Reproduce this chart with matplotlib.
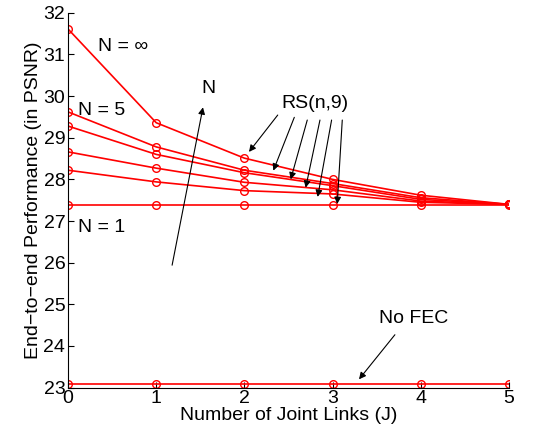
import numpy as np
import matplotlib
matplotlib.use('Agg')
import matplotlib.pyplot as plt

plt.rcParams['font.family'] = ['Liberation Sans', 'DejaVu Sans']

# Data
J = [0, 1, 2, 3, 4, 5]
n_inf = [31.61, 29.36, 28.51, 28.00, 27.62, 27.40]
n_5 = [29.62, 28.78, 28.22, 27.90, 27.56, 27.40]
n_4 = [29.28, 28.60, 28.16, 27.85, 27.52, 27.40]
n_3 = [28.66, 28.27, 27.93, 27.75, 27.48, 27.40]
n_2 = [28.22, 27.94, 27.73, 27.65, 27.45, 27.40]
n_1 = [27.39, 27.39, 27.39, 27.39, 27.39, 27.39]
no_fec = [23.08, 23.08, 23.08, 23.08, 23.08, 23.08]

fig = plt.figure(figsize=(5.58, 4.41), dpi=100)
ax = fig.add_axes([0.122, 0.121, 0.79, 0.850])

for s in [n_inf, n_5, n_4, n_3, n_2, n_1, no_fec]:
    ax.plot(J, s, color='red', lw=1.2, marker='o', ms=5.5,
            mfc='none', mec='red', mew=1.0)

ax.set_xlim(0, 5)
ax.set_ylim(23, 32)
ax.set_xticks(J)
ax.set_yticks(range(23, 33))
ax.spines['top'].set_visible(False)
ax.spines['right'].set_visible(False)
ax.tick_params(direction='in', labelsize=14, length=4, pad=2)
ax.set_xlabel('Number of Joint Links (J)', fontsize=14, labelpad=0)
ax.set_ylabel('End\u2212to\u2212end Performance (in PSNR)', fontsize=14, labelpad=1)

fs = 14
ax.text(0.34, 31.18, 'N = \u221e', fontsize=fs, va='center')
ax.text(0.11, 29.66, 'N = 5', fontsize=fs, va='center')
ax.text(0.11, 26.85, 'N = 1', fontsize=fs, va='center')

arrow = dict(arrowstyle='-|>', color='k', lw=0.8, mutation_scale=10,
             shrinkA=0, shrinkB=0)

ax.text(1.59, 30.19, 'N', fontsize=fs, ha='center', va='center')
ax.annotate('', xy=(1.53, 29.73), xytext=(1.18, 25.94), arrowprops=arrow)

ax.text(2.80, 29.83, 'RS(n,9)', fontsize=fs, ha='center', va='center')
rs_tails = [(2.378, 29.545), (2.566, 29.49), (2.713, 29.425),
            (2.857, 29.425), (2.989, 29.425), (3.110, 29.425)]
rs_heads = [(2.052, 28.66), (2.328, 28.21), (2.525, 28.00),
            (2.695, 27.80), (2.831, 27.58), (3.053, 27.41)]
for t, h in zip(rs_tails, rs_heads):
    ax.annotate('', xy=h, xytext=t, arrowprops=arrow)

ax.text(3.92, 24.67, 'No FEC', fontsize=fs, ha='center', va='center')
ax.annotate('', xy=(3.30, 23.2), xytext=(3.707, 24.27), arrowprops=arrow)

fig.savefig('out.png', dpi=100)
